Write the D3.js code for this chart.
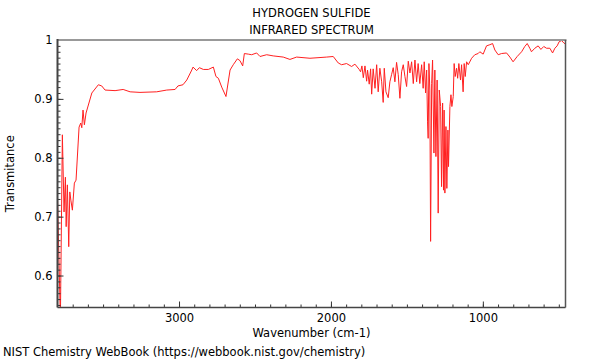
<!DOCTYPE html>
<html>
<head>
<meta charset="utf-8">
<script src="https://cdn.jsdelivr.net/npm/d3@7"></script>
<style>
  body { margin: 0; background: white; }
  svg { display: block; font-family: "DejaVu Sans", sans-serif; }
  .axis path { display: none; }
  .axis line { stroke: #333; }
  .axis text { font-size: 11.5px; fill: #000; font-family: "DejaVu Sans", sans-serif; }
</style>
</head>
<body>
<svg id="canvas"></svg>
<script>
let width = 600;
let height = 360;
let plotLeft = 57.5, plotRight = 565.5, plotTop = 40, plotBottom = 307.5;

// spectrum: wavenumber (cm-1) and transmittance
let wavenumbers = [
  3800, 3781, 3768, 3757, 3748, 3743, 3735, 3726, 3719, 3712, 3702, 3689, 3678, 3658, 3647, 3640,
  3632, 3623, 3612, 3574, 3531, 3509, 3487, 3421, 3368, 3322, 3257, 3147, 3081, 3026, 3007, 2974,
  2949, 2916, 2908, 2884, 2866, 2840, 2807, 2774, 2757, 2741, 2719, 2691, 2664, 2643, 2616, 2599,
  2581, 2570, 2544, 2522, 2489, 2467, 2423, 2380, 2314, 2270, 2226, 2138, 2028, 1985, 1952, 1930,
  1897, 1864, 1842, 1814, 1805, 1796, 1787, 1776, 1765, 1759, 1748, 1739, 1732, 1722, 1710, 1699,
  1689, 1678, 1666, 1656, 1649, 1638, 1623, 1612, 1601, 1590, 1579, 1568, 1557, 1546, 1535, 1524,
  1513, 1502, 1491, 1480, 1469, 1458, 1447, 1436, 1426, 1415, 1403, 1393, 1386, 1377, 1370, 1364,
  1360, 1355, 1349, 1344, 1337, 1331, 1322, 1316, 1309, 1301, 1294, 1287, 1278, 1272, 1265, 1259,
  1255, 1250, 1243, 1237, 1230, 1226, 1217, 1210, 1204, 1195, 1189, 1182, 1173, 1166, 1158, 1147,
  1140, 1130, 1123, 1116, 1107, 1096, 1074, 1053, 1031, 1020, 998, 976, 954, 936, 921, 899,
  877, 844, 822, 801, 774, 745, 724, 708, 691, 680, 658, 636, 618, 599, 581, 559,
  541, 526, 511, 498, 482, 467, 456
];
let transmittance = [
  0.732, 0.525, 0.839, 0.708, 0.767, 0.683, 0.754, 0.649, 0.742, 0.728, 0.711, 0.757, 0.762, 0.852, 0.859, 0.851,
  0.881, 0.856, 0.876, 0.910, 0.924, 0.922, 0.915, 0.914, 0.916, 0.912, 0.911, 0.912, 0.915, 0.916, 0.922, 0.924,
  0.932, 0.949, 0.954, 0.948, 0.953, 0.950, 0.950, 0.954, 0.938, 0.935, 0.920, 0.904, 0.949, 0.958, 0.968, 0.965,
  0.956, 0.977, 0.976, 0.975, 0.978, 0.972, 0.975, 0.973, 0.971, 0.967, 0.971, 0.969, 0.971, 0.972, 0.961, 0.958,
  0.960, 0.955, 0.959, 0.950, 0.946, 0.956, 0.936, 0.956, 0.930, 0.949, 0.925, 0.951, 0.908, 0.951, 0.918, 0.958,
  0.912, 0.952, 0.929, 0.894, 0.952, 0.912, 0.902, 0.929, 0.941, 0.953, 0.929, 0.962, 0.941, 0.901, 0.946, 0.958,
  0.938, 0.921, 0.964, 0.944, 0.963, 0.926, 0.966, 0.929, 0.960, 0.926, 0.958, 0.918, 0.963, 0.910, 0.949, 0.861,
  0.833, 0.960, 0.915, 0.658, 0.926, 0.966, 0.808, 0.949, 0.802, 0.932, 0.706, 0.915, 0.887, 0.751, 0.893, 0.745,
  0.881, 0.740, 0.853, 0.748, 0.847, 0.785, 0.887, 0.907, 0.887, 0.904, 0.960, 0.938, 0.952, 0.935, 0.960, 0.932,
  0.958, 0.912, 0.960, 0.938, 0.963, 0.958, 0.969, 0.975, 0.977, 0.980, 0.976, 0.990, 0.992, 0.994, 0.983, 0.975,
  0.977, 0.978, 0.971, 0.963, 0.972, 0.980, 0.989, 0.994, 0.986, 0.980, 0.986, 0.990, 0.984, 0.989, 0.986, 0.986,
  0.978, 0.986, 0.990, 0.997, 0.999, 0.995, 0.993
];

let xTicks = [3000, 2000, 1000];
let yTicks = [0.6, 0.7, 0.8, 0.9, 1];
let titleLines = ['HYDROGEN SULFIDE', 'INFRARED SPECTRUM'];

let points = wavenumbers.map((w, i) => ({ w: w, t: transmittance[i] }));

let canvas = d3.select('#canvas')
    .attr('width', width)
    .attr('height', height);

let xScale = d3.scaleLinear()
    .domain([3800, 456])
    .range([plotLeft, plotRight]);

let yScale = d3.scaleLinear()
    .domain([0.5457, 1])
    .range([plotBottom, plotTop]);

canvas.append('clipPath')
    .attr('id', 'plot-clip')
    .append('rect')
    .attr('x', plotLeft)
    .attr('y', plotTop)
    .attr('width', plotRight - plotLeft)
    .attr('height', plotBottom - plotTop);

// spectrum
let line = d3.line()
    .x(d => xScale(d.w))
    .y(d => yScale(d.t));

canvas.append('path')
    .datum(points)
    .attr('clip-path', 'url(#plot-clip)')
    .attr('fill', 'none')
    .attr('stroke', '#ff2020')
    .attr('stroke-width', 1)
    .attr('d', line);

// minor ticks
let yMinor = d3.range(55, 100).map(v => v / 100);
let xMinor = d3.range(5, 38).map(v => v * 100);

canvas.append('g')
    .attr('class', 'axis')
    .attr('transform', `translate(${plotLeft}, 0)`)
    .call(d3.axisLeft(yScale).tickValues(yMinor).tickSize(-3).tickFormat(''));

canvas.append('g')
    .attr('class', 'axis')
    .attr('transform', `translate(0, ${plotBottom})`)
    .call(d3.axisBottom(xScale).tickValues(xMinor).tickSize(-3).tickFormat(''));

// major ticks
canvas.append('g')
    .attr('class', 'axis')
    .attr('transform', `translate(${plotLeft}, 0)`)
    .call(d3.axisLeft(yScale).tickValues(yTicks).tickSize(-6).tickPadding(5)
        .tickFormat(d => d === 1 ? '1' : d3.format('.1f')(d)));

canvas.append('g')
    .attr('class', 'axis')
    .attr('transform', `translate(0, ${plotBottom})`)
    .call(d3.axisBottom(xScale).tickValues(xTicks).tickSize(-6).tickPadding(6)
        .tickFormat(d3.format('d')));

// frame
canvas.append('line')
    .attr('x1', plotLeft).attr('x2', plotRight + 1)
    .attr('y1', plotTop).attr('y2', plotTop)
    .attr('stroke', '#999').attr('stroke-width', 2);

canvas.append('line')
    .attr('x1', plotRight).attr('x2', plotRight)
    .attr('y1', plotTop).attr('y2', plotBottom)
    .attr('stroke', '#555').attr('stroke-width', 1.5);

canvas.append('line')
    .attr('x1', plotLeft).attr('x2', plotRight)
    .attr('y1', plotBottom).attr('y2', plotBottom)
    .attr('stroke', '#444').attr('stroke-width', 1.5);

canvas.append('line')
    .attr('x1', plotLeft).attr('x2', plotLeft)
    .attr('y1', plotTop - 1).attr('y2', plotBottom)
    .attr('stroke', '#444').attr('stroke-width', 2);

// texts
canvas.selectAll('.title')
    .data(titleLines)
    .enter()
    .append('text')
    .attr('class', 'title')
    .attr('x', (plotLeft + plotRight) / 2)
    .attr('y', (d, i) => 17 + i * 17)
    .attr('text-anchor', 'middle')
    .attr('font-size', 11.5)
    .text(d => d);

canvas.append('text')
    .attr('transform', `translate(14, ${(plotTop + plotBottom) / 2}) rotate(-90)`)
    .attr('text-anchor', 'middle')
    .attr('font-size', 11.5)
    .text('Transmitance');

canvas.append('text')
    .attr('x', (plotLeft + plotRight) / 2)
    .attr('y', 337)
    .attr('text-anchor', 'middle')
    .attr('font-size', 11.5)
    .text('Wavenumber (cm-1)');

canvas.append('text')
    .attr('x', 3)
    .attr('y', 356)
    .attr('font-size', 11.5)
    .text('NIST Chemistry WebBook (https://webbook.nist.gov/chemistry)');
</script>
</body>
</html>
